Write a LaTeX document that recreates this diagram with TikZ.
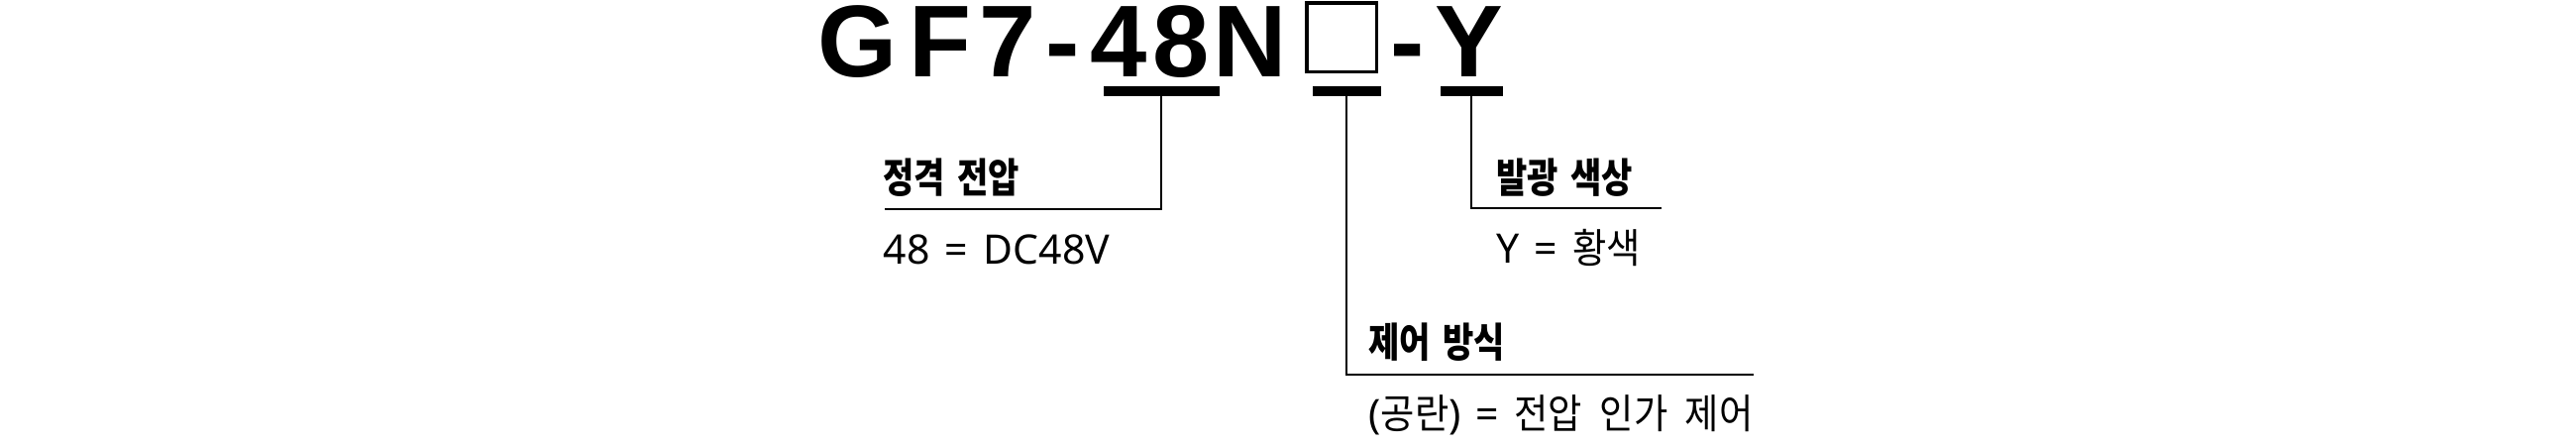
\documentclass[tikz,border=0pt]{standalone}
\usepackage{fontspec}
\setmainfont{Liberation Sans}
\newfontfamily\korfont[FakeStretch=0.91,WordSpace=2.1,
                       BoldFeatures={FakeStretch=0.83,WordSpace=1.6}]{Noto Sans CJK KR}
\newfontfamily\latfont[LetterSpace=0.5,WordSpace=1.4]{Noto Sans}
\usetikzlibrary{positioning}

\begin{document}
\begin{tikzpicture}[x=0.5pt,y=-0.5pt,
                    code/.style={font=\bfseries\fontsize{51.5pt}{52pt}\selectfont,
                                 inner sep=0pt,anchor=base},
                    bar/.style={fill=black,inner sep=0pt,minimum height=5pt},
                    head/.style={font=\korfont\bfseries\fontsize{20.5pt}{22pt}\selectfont,
                                 inner sep=0pt,anchor=base west},
                    item/.style={font=\korfont\fontsize{20.5pt}{22pt}\selectfont,
                                 inner sep=0pt,anchor=base west},
                    lead/.style={line width=1pt}]
  \useasboundingbox (0,0) rectangle (2600,450);

  % model code
  \foreach \c/\x [count=\i] in {G/866,F/948.5,7/1017,-/1072.5,4/1129,8/1192.5,N/1262,-/1420.5,Y/1482.5}
    \node[code] (ch\i) at (\x,77) {\c};
  \node[draw,line width=1.75pt,minimum width=35.25pt,minimum height=34.75pt,
        inner sep=0pt] (blank) at (1354,37.5) {};

  \node[bar,minimum width=58.5pt] (u48)    at (1172,92) {};
  \node[bar,minimum width=34.5pt] (ublank) at (1359,92) {};
  \node[bar,minimum width=31.5pt] (uy)     at (1485,92) {};

  % labels
  \node[head] (rated)   at (891,194)  {정격 전압};
  \node[item] (rated48) at (891,266)  {\latfont 48 = DC48V};
  \node[head] (color)   at (1510,194) {발광 색상};
  \node[item] (colory)  at (1510,265) {{\latfont Y = }황색};
  \node[head] (ctrl)    at (1381,360) {제어 방식};
  \node[item] (ctrlv)   at (1381,432) {{\latfont (}공란{\latfont ) = }전압 인가 제어};

  \coordinate (e48)    at (893,211);
  \coordinate (ey)     at (1677,210);
  \coordinate (eblank) at (1770,378);

  \draw[lead] (u48.south)    |- (e48);
  \draw[lead] (ublank.south) |- (eblank);
  \draw[lead] (uy.south)     |- (ey);
\end{tikzpicture}
\end{document}
